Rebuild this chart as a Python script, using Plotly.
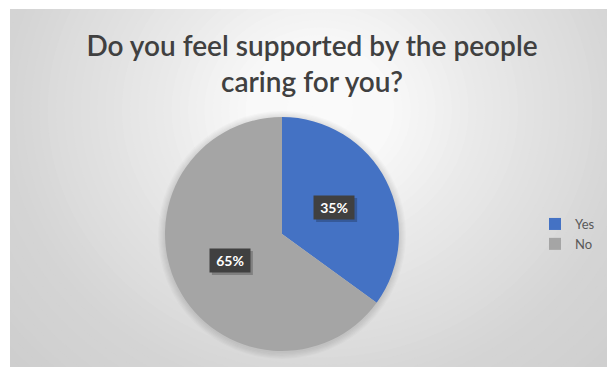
import math
import plotly.graph_objects as go

# Survey answers
labels = ["Yes", "No"]
values = [35, 65]
colors = ["#4472C4", "#A5A5A5"]
title_text = "Do you feel supported by the people<br>caring for you?"

W, H = 607, 367

# chart frame (pixels) and pie geometry (pixels)
frame_left, frame_top = 10, 9
pie_cx, pie_cy, pie_r = 282, 234, 117
FONT = "Lato, Open Sans, sans-serif"


def px_x(x):
    return x / W


def px_y(y):
    return 1 - y / H


def grey(d):
    # lightness of the radial background at normalised distance d
    stops = [(0.0, 250), (0.22, 249), (0.5, 233), (0.95, 213), (1.4, 203)]
    for (d0, c0), (d1, c1) in zip(stops, stops[1:]):
        if d <= d1:
            return round(c0 + (c1 - c0) * (d - d0) / (d1 - d0))
    return stops[-1][1]


fig = go.Figure()

fig.add_trace(go.Pie(
    labels=labels,
    values=values,
    marker=dict(colors=colors, line=dict(width=0)),
    sort=False,
    direction="clockwise",
    rotation=0,
    textinfo="none",
    hoverinfo="label+percent",
    domain=dict(x=[px_x(pie_cx - pie_r), px_x(pie_cx + pie_r)],
                y=[px_y(pie_cy + pie_r), px_y(pie_cy - pie_r)]),
))

shapes = []

# radial background gradient: light around the upper centre, grey at the edges
gx, gy, grx, gry = 320, 110, 330, 300
steps = 56
d_max = 1.4
for i in range(steps):
    d = d_max * (1 - i / steps)
    shapes.append(dict(type="circle", xref="paper", yref="paper", layer="below",
                       x0=px_x(gx - grx * d), x1=px_x(gx + grx * d),
                       y0=px_y(gy + gry * d), y1=px_y(gy - gry * d),
                       line=dict(width=0),
                       fillcolor="rgb({0},{0},{0})".format(grey(d))))

# soft shadow around the pie
for k in range(6):
    r = pie_r + 7 - k * 1.2
    shapes.append(dict(type="circle", xref="paper", yref="paper", layer="below",
                       x0=px_x(pie_cx - r), x1=px_x(pie_cx + r),
                       y0=px_y(pie_cy + r + 1), y1=px_y(pie_cy - r + 1),
                       line=dict(width=0), fillcolor="rgba(0,0,0,0.02)"))

# white page strips outside the chart frame
shapes.append(dict(type="rect", xref="paper", yref="paper", layer="below",
                   x0=0, x1=px_x(frame_left), y0=0, y1=1,
                   line=dict(width=0), fillcolor="white"))
shapes.append(dict(type="rect", xref="paper", yref="paper", layer="below",
                   x0=0, x1=1, y0=px_y(frame_top), y1=1,
                   line=dict(width=0), fillcolor="white"))

# data labels placed at the middle angle of each slice
total = sum(values)
annotations = []
box_w, box_h = 40, 23
start = 0.0
for lab, v in zip(labels, values):
    frac = v / total
    mid = (start + frac / 2) * 2 * math.pi
    start += frac
    lx = pie_cx + 0.5 * pie_r * math.sin(mid)
    ly = pie_cy - 0.5 * pie_r * math.cos(mid)
    # drop shadow under the label box
    shapes.append(dict(type="rect", xref="paper", yref="paper", layer="above",
                       x0=px_x(lx - box_w / 2 + 2), x1=px_x(lx + box_w / 2 + 3),
                       y0=px_y(ly + box_h / 2 + 3), y1=px_y(ly - box_h / 2 + 2),
                       line=dict(width=0), fillcolor="rgba(0,0,0,0.22)"))
    annotations.append(dict(
        x=px_x(lx), y=px_y(ly), xref="paper", yref="paper",
        xanchor="center", yanchor="middle",
        text=f"<b>{frac:.0%}</b>", showarrow=False,
        width=box_w - 8, height=box_h - 8, align="center", valign="middle",
        font=dict(family=FONT, size=14, color="white"),
        bgcolor="#404040", borderpad=4))

fig.update_layout(
    width=W, height=H,
    margin=dict(l=0, r=0, t=0, b=0),
    paper_bgcolor="rgb(203,203,203)",
    plot_bgcolor="rgba(0,0,0,0)",
    title=dict(text=title_text, x=312 / W, xanchor="center", y=1 - 56 / H, yanchor="middle",
               font=dict(family=FONT, size=28, color="#404040", weight=600)),
    legend=dict(x=px_x(535), y=px_y(234), xanchor="left", yanchor="middle",
                font=dict(family=FONT, size=13, color="#595959"),
                bgcolor="rgba(0,0,0,0)", itemwidth=30),
    shapes=shapes,
    annotations=annotations,
    showlegend=True,
)

fig.write_html("out.html")
